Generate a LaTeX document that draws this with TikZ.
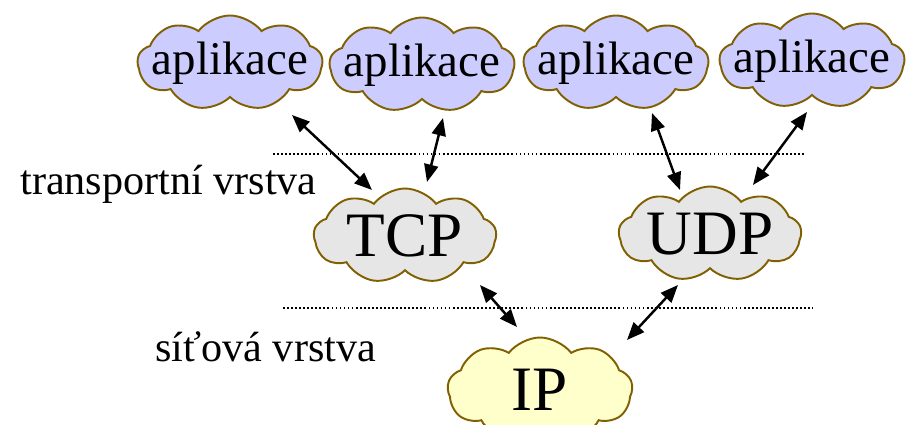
\documentclass[tikz,border=0pt]{standalone}
\usepackage{fontspec}
\setmainfont{Liberation Serif}
\usetikzlibrary{shapes.symbols,arrows.meta,calc}
\definecolor{cloudline}{RGB}{128,96,0}
\definecolor{appfill}{RGB}{204,204,255}
\definecolor{tpfill}{RGB}{230,230,230}
\definecolor{ipfill}{RGB}{255,255,204}
\newcommand{\cloudtext}[1]{\makebox[0pt][c]{#1}}
\begin{document}
\begin{tikzpicture}[
  cloudbox/.style={cloud,cloud puffs=9,cloud puff arc=105,cloud ignores aspect,draw=cloudline,line width=1.1pt,inner sep=0pt},
  app/.style={cloudbox,fill=appfill,minimum width=3.7cm,minimum height=1.9cm,font=\fontsize{26.7}{30}\selectfont},
  proto/.style={cloudbox,fill=tpfill,minimum width=3.65cm,minimum height=1.9cm,font=\fontsize{36}{40}\selectfont},
  link/.style={{Triangle[length=10pt,width=8pt]}-{Triangle[length=10pt,width=8pt]},line width=1.4pt},
  layer/.style={dash pattern=on 1pt off 1.3pt,line width=0.8pt},
  lbl/.style={anchor=base west,font=\fontsize{24}{28}\selectfont,inner sep=0pt}]
\useasboundingbox (0,0) rectangle (18.26,-8.5);

% Layer boundaries
\draw[layer] (5.46,-3.08) -- (16.1,-3.08);
\draw[layer] (5.66,-6.16) -- (16.26,-6.16);
\node[lbl] (tlayer) at (0.4,-3.9) {transportní vrstva};
\node[lbl] (nlayer) at (3.1,-7.24) {síťová vrstva};

% Applications
\node[app] (app1) at (4.6,-1.26) {\cloudtext{aplikace}};
\node[app] (app2) at (8.44,-1.3) {\cloudtext{aplikace}};
\node[app] (app3) at (12.32,-1.26) {\cloudtext{aplikace}};
\node[app] (app4) at (16.24,-1.22) {\cloudtext{aplikace}};

% Transport protocols
\node[proto] (tcp) at (8.1,-4.72) {\cloudtext{TCP}};
\node[proto] (udp) at (14.2,-4.68) {\cloudtext{UDP}};

% Network layer
\node[proto,fill=ipfill,minimum width=3.7cm,minimum height=2.1cm] (ip) at (10.8,-7.8) {\cloudtext{IP}};

% Links
\draw[link] ($(app1)+(1.24,-1.04)$) -- ($(tcp)+(-0.66,0.92)$);
\draw[link] ($(app2)+(0.42,-1.06)$) -- ($(tcp)+(0.44,1.08)$);
\draw[link] ($(app3)+(0.72,-1.0)$) -- ($(udp)+(-0.6,0.88)$);
\draw[link] ($(app4)+(-0.1,-1.02)$) -- ($(udp)+(0.86,0.98)$);
\draw[link] ($(tcp)+(1.5,-0.98)$) -- ($(ip)+(-0.46,1.26)$);
\draw[link] ($(udp)+(-0.64,-1.02)$) -- ($(ip)+(1.74,1.0)$);
\end{tikzpicture}
\end{document}
